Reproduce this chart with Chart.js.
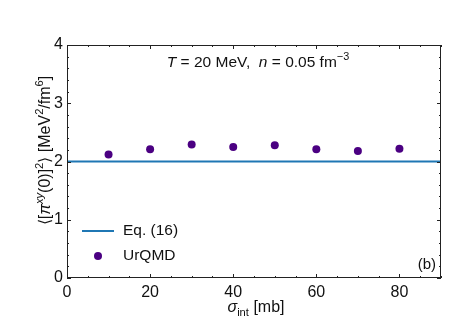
<!DOCTYPE html>
<html>
<head>
<meta charset="utf-8">
<script src="https://cdn.jsdelivr.net/npm/chart.js@4.4.1/dist/chart.umd.min.js"></script>
<style>
  html, body { margin: 0; padding: 0; background: #fff; }
  #wrap { width: 454px; height: 323px; }
</style>
</head>
<body>
<div id="wrap"><canvas id="c" width="454" height="323"></canvas></div>
<script>
// data
const sigma = [10, 20, 30, 40, 50, 60, 70, 80];
const urqmd = [2.12, 2.21, 2.29, 2.25, 2.28, 2.21, 2.18, 2.22];
const eqX = [0, 90];
const eqY = [2, 2];
const xTicks = [0, 20, 40, 60, 80];
const yTicks = [0, 1, 2, 3, 4];

const FONT = "'Liberation Sans', Arial, sans-serif";
const LINE_C = '#1f77b4';
const DOT_C = '#4b0082';
const AXIS_C = '#222';

// draw a run of text pieces, some italic / raised / lowered
function richText(ctx, runs, x, y, size) {
  const pieces = runs.map(r => {
    const s = r.sup || r.sub ? size * 0.7 : size;
    ctx.font = (r.it ? 'italic ' : '') + s + 'px ' + FONT;
    return { ...r, s, w: ctx.measureText(r.t).width };
  });
  const total = pieces.reduce((a, p) => a + p.w, 0);
  let cx = x - total / 2;
  ctx.textAlign = 'left';
  ctx.textBaseline = 'alphabetic';
  pieces.forEach(p => {
    ctx.font = (p.it ? 'italic ' : '') + p.s + 'px ' + FONT;
    const dy = p.sup ? -size * 0.42 : p.sub ? size * 0.22 : 0;
    ctx.fillText(p.t, cx, y + dy);
    cx += p.w;
  });
}

const framePlugin = {
  id: 'frame',
  afterDraw(chart) {
    const { ctx, chartArea: a, scales } = chart;
    const xs = scales.x, ys = scales.y;
    ctx.save();
    ctx.strokeStyle = AXIS_C;
    ctx.lineWidth = 1;
    ctx.strokeRect(a.left + 0.5, a.top + 0.5, a.right - a.left - 1, a.bottom - a.top - 1);

    // inward ticks on all four sides
    ctx.beginPath();
    for (let v = 0; v <= 90; v += 5) {
      const px = Math.round(xs.getPixelForValue(v)) + 0.5;
      const len = v % 20 === 0 ? 4 : 2;
      ctx.moveTo(px, a.bottom); ctx.lineTo(px, a.bottom - len);
      ctx.moveTo(px, a.top); ctx.lineTo(px, a.top + len);
    }
    for (let i = 0; i <= 20; i++) {
      const v = i * 0.2;
      const py = Math.round(ys.getPixelForValue(v)) + 0.5;
      const len = i % 5 === 0 ? 4 : 2;
      ctx.moveTo(a.left, py); ctx.lineTo(a.left + len, py);
      ctx.moveTo(a.right, py); ctx.lineTo(a.right - len, py);
    }
    ctx.stroke();

    ctx.fillStyle = '#111';
    // annotation at top
    richText(ctx, [
      { t: 'T', it: true }, { t: ' = 20 MeV,  ' },
      { t: 'n', it: true }, { t: ' = 0.05 fm' }, { t: '\u22123', sup: true }
    ], (a.left + a.right) / 2 + 4, 67, 15.5);

    // panel label
    ctx.font = '15px ' + FONT;
    ctx.textAlign = 'right';
    ctx.textBaseline = 'alphabetic';
    ctx.fillText('(b)', a.right - 5, a.bottom - 9);

    // x title
    richText(ctx, [
      { t: '\u03c3', it: true }, { t: 'int', sub: true }, { t: ' [mb]' }
    ], (a.left + a.right) / 2 + 2, 312, 16);

    // y title (rotated)
    ctx.save();
    ctx.translate(44, (a.top + a.bottom) / 2 - 11);
    ctx.rotate(-Math.PI / 2);
    richText(ctx, [
      { t: '\u27e8[' }, { t: '\u03c0', it: true }, { t: 'xy', sup: true, it: true },
      { t: '(0)]' }, { t: '2', sup: true }, { t: '\u27e9 [MeV' }, { t: '2', sup: true },
      { t: '/fm' }, { t: '6', sup: true }, { t: ']' }
    ], 0, 6, 16);
    ctx.restore();

    // legend
    const ds = chart.data.datasets;
    ctx.strokeStyle = ds[0].borderColor;
    ctx.lineWidth = 2;
    ctx.beginPath();
    ctx.moveTo(82, 231); ctx.lineTo(114, 231);
    ctx.stroke();
    ctx.fillStyle = ds[1].backgroundColor;
    ctx.beginPath();
    ctx.arc(98, 256, 4, 0, Math.PI * 2);
    ctx.fill();
    ctx.fillStyle = '#111';
    ctx.font = '15.5px ' + FONT;
    ctx.textAlign = 'left';
    ctx.textBaseline = 'middle';
    ctx.fillText(ds[0].label, 123, 231);
    ctx.fillText(ds[1].label, 123, 256);
    ctx.restore();
  }
};

new Chart(document.getElementById('c'), {
  type: 'scatter',
  data: {
    datasets: [
      {
        type: 'line',
        label: 'Eq. (16)',
        data: eqX.map((x, i) => ({ x, y: eqY[i] })),
        borderColor: LINE_C,
        borderWidth: 2,
        pointRadius: 0,
        fill: false
      },
      {
        label: 'UrQMD',
        data: sigma.map((x, i) => ({ x, y: urqmd[i] })),
        backgroundColor: DOT_C,
        borderColor: DOT_C,
        pointRadius: 4,
        borderWidth: 0
      }
    ]
  },
  options: {
    responsive: false,
    animation: false,
    layout: { padding: { left: 0, right: 13, top: 45, bottom: 0 } },
    plugins: { legend: { display: false }, tooltip: { enabled: false } },
    scales: {
      x: {
        type: 'linear',
        min: 0, max: 90,
        grid: { display: false, drawTicks: false },
        border: { display: false },
        afterBuildTicks: s => { s.ticks = xTicks.map(v => ({ value: v })); },
        afterFit: s => { s.height = 45; },
        ticks: { color: '#111', padding: 5, font: { family: FONT, size: 16 }, maxRotation: 0 }
      },
      y: {
        min: 0, max: 4,
        grid: { display: false, drawTicks: false },
        border: { display: false },
        afterBuildTicks: s => { s.ticks = yTicks.map(v => ({ value: v })); },
        afterFit: s => { s.width = 67; },
        ticks: { color: '#111', padding: 4, font: { family: FONT, size: 16 } }
      }
    }
  },
  plugins: [framePlugin]
});
</script>
</body>
</html>
